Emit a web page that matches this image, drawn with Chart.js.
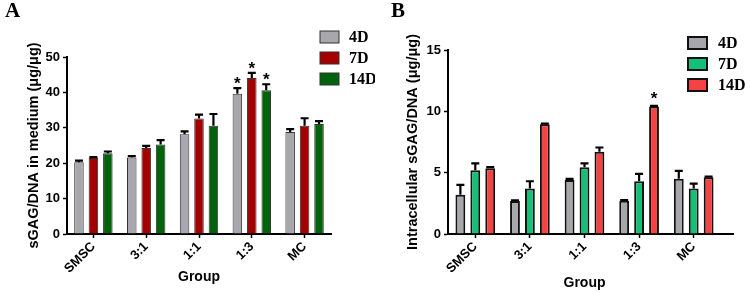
<!DOCTYPE html>
<html>
<head>
<meta charset="utf-8">
<script src="https://cdn.jsdelivr.net/npm/chart.js@4.4.1/dist/chart.umd.min.js"></script>
<style>
  html, body { margin: 0; padding: 0; background: #fff; }
  #wrap { position: relative; width: 750px; height: 292px; overflow: hidden; }
  .panel { position: absolute; top: 0; width: 375px; height: 292px; overflow: hidden; }
  .panel canvas { display: block; }
  .letter { position: absolute; top: -2px; font: bold 21px "Liberation Serif", serif; color: #000; }
</style>
</head>
<body>
<div id="wrap">
  <div class="panel" style="left:0"><canvas id="chartA" width="375" height="292"></canvas></div>
  <div class="panel" style="left:375px"><canvas id="chartB" width="375" height="292"></canvas></div>
  <div class="letter" style="left:5px">A</div>
  <div class="letter" style="left:391px">B</div>
</div>
<script>
const groups = ['SMSC', '3:1', '1:1', '1:3', 'MC'];
const dayLabels = ['4D', '7D', '14D'];

// Panel A - sGAG/DNA released into medium
const mediumD4 = [20.3, 21.6, 28.2, 39.6, 28.8];
const mediumD7 = [21.5, 24.3, 32.6, 44.1, 30.6];
const mediumD14 = [22.8, 25.3, 30.6, 40.6, 31.1];
const mediumErrD4 = [0.4, 0.4, 0.8, 1.6, 0.8];
const mediumErrD7 = [0.2, 0.6, 1.1, 1.4, 2.1];
const mediumErrD14 = [0.5, 1.2, 3.3, 1.7, 0.8];
const mediumSigD4 = [false, false, false, true, false];
const mediumSigD7 = [false, false, false, true, false];
const mediumSigD14 = [false, false, false, true, false];
const mediumTicks = { min: 0, max: 50, step: 10 };

// Panel B - intracellular sGAG/DNA
const cellD4 = [3.2, 2.7, 4.4, 2.72, 4.5];
const cellD7 = [5.2, 3.7, 5.45, 4.3, 3.7];
const cellD14 = [5.35, 8.95, 6.7, 10.4, 4.63];
const cellErrD4 = [0.8, 0.05, 0.1, 0.05, 0.65];
const cellErrD7 = [0.55, 0.6, 0.3, 0.6, 0.4];
const cellErrD14 = [0.1, 0.05, 0.35, 0.05, 0.05];
const cellSigD4 = [false, false, false, false, false];
const cellSigD7 = [false, false, false, false, false];
const cellSigD14 = [false, false, false, true, false];
const cellTicks = { min: 0, max: 15, step: 5 };

const sansFont = '"Liberation Sans", Arial, sans-serif';
const serifFont = '"Liberation Serif", "Times New Roman", serif';

// error bars (upper only) and significance stars
const errorBarPlugin = {
    id: 'errorBars',
    afterDatasetsDraw(chart, args, opts) {
        const ctx = chart.ctx;
        const yScale = chart.scales.y;
        chart.data.datasets.forEach((ds, i) => {
            const meta = chart.getDatasetMeta(i);
            meta.data.forEach((bar, j) => {
                const top = yScale.getPixelForValue(ds.data[j] + ds.errors[j]);
                ctx.save();
                ctx.strokeStyle = '#000';
                ctx.lineWidth = opts.lineWidth;
                ctx.beginPath();
                ctx.moveTo(bar.x, bar.y);
                ctx.lineTo(bar.x, top);
                ctx.moveTo(bar.x - opts.capHalf, top);
                ctx.lineTo(bar.x + opts.capHalf, top);
                ctx.stroke();
                if (ds.stars[j]) {
                    ctx.fillStyle = '#000';
                    ctx.font = opts.starFont;
                    ctx.textAlign = 'center';
                    ctx.textBaseline = 'alphabetic';
                    ctx.fillText('*', bar.x, top + opts.starOffset);
                }
                ctx.restore();
            });
        });
    }
};

// legend with boxes, drawn beside the plot
const boxLegendPlugin = {
    id: 'boxLegend',
    afterDraw(chart, args, opts) {
        const ctx = chart.ctx;
        ctx.save();
        chart.data.datasets.forEach((ds, i) => {
            const top = opts.y + i * opts.step;
            ctx.fillStyle = ds.backgroundColor;
            ctx.fillRect(opts.x, top, opts.boxW, opts.boxH);
            ctx.strokeStyle = ds.borderColor;
            ctx.lineWidth = opts.lineWidth;
            ctx.strokeRect(opts.x, top, opts.boxW, opts.boxH);
            ctx.fillStyle = '#000';
            ctx.font = opts.font;
            ctx.textAlign = 'left';
            ctx.textBaseline = 'middle';
            ctx.fillText(ds.label, opts.textX, top + opts.boxH / 2 + 1);
        });
        ctx.restore();
    }
};

// x axis line runs a little past the last group
const axisTailPlugin = {
    id: 'axisTail',
    afterDraw(chart, args, opts) {
        if (!opts.extra) return;
        const ctx = chart.ctx;
        const area = chart.chartArea;
        ctx.save();
        ctx.strokeStyle = '#000';
        ctx.lineWidth = opts.lineWidth;
        ctx.beginPath();
        ctx.moveTo(area.right - 1, area.bottom);
        ctx.lineTo(area.right + opts.extra, area.bottom);
        ctx.stroke();
        ctx.restore();
    }
};

function makeDataset(label, data, errors, stars, color, border, borderWidth) {
    return {
        label: label,
        data: data,
        errors: errors,
        stars: stars,
        backgroundColor: color,
        borderColor: border,
        borderWidth: borderWidth,
        borderSkipped: 'start',
        categoryPercentage: 0.82,
        barPercentage: 0.66
    };
}

function makePanel(canvasId, datasets, ticks, yTitle, layout) {
    const ctx = document.getElementById(canvasId).getContext('2d');
    return new Chart(ctx, {
        type: 'bar',
        data: { labels: groups, datasets: datasets },
        plugins: [errorBarPlugin, boxLegendPlugin, axisTailPlugin],
        options: {
            responsive: false,
            animation: false,
            devicePixelRatio: 1,
            layout: { padding: layout.padding },
            plugins: {
                legend: { display: false },
                tooltip: { enabled: false },
                errorBars: { lineWidth: 2.2, capHalf: 4, starFont: 'bold 17px ' + sansFont, starOffset: layout.starOffset },
                boxLegend: layout.legend,
                axisTail: { extra: layout.axisTail, lineWidth: 2 }
            },
            scales: {
                x: {
                    grid: { display: true, drawOnChartArea: false, offset: false, tickLength: 4, tickColor: '#000', tickWidth: 1.5 },
                    border: { display: true, color: '#000', width: 2 },
                    ticks: {
                        color: '#000',
                        font: { family: sansFont, size: 13, weight: 'bold' },
                        maxRotation: 45,
                        minRotation: 45,
                        autoSkip: false,
                        padding: 1
                    },
                    title: {
                        display: true,
                        text: 'Group',
                        color: '#000',
                        font: { family: sansFont, size: 14, weight: 'bold' },
                        padding: layout.groupPadding
                    },
                    afterFit: (scale) => { scale.height = layout.xHeight; }
                },
                y: {
                    min: ticks.min,
                    max: ticks.max,
                    grid: { display: true, drawOnChartArea: false, tickLength: 4, tickColor: '#000', tickWidth: 1.5 },
                    border: { display: true, color: '#000', width: 2 },
                    ticks: {
                        stepSize: ticks.step,
                        color: '#000',
                        font: { family: sansFont, size: 13, weight: 'bold' },
                        padding: 3
                    },
                    title: {
                        display: true,
                        text: yTitle,
                        color: '#000',
                        font: { family: sansFont, size: 14.5, weight: 'bold' },
                        padding: { top: 4, bottom: 4 }
                    },
                    afterFit: (scale) => { scale.width = layout.yWidth; }
                }
            }
        }
    });
}

const chartA = makePanel('chartA', [
    makeDataset(dayLabels[0], mediumD4, mediumErrD4, mediumSigD4, '#a7a7ad', '#333333', 1),
    makeDataset(dayLabels[1], mediumD7, mediumErrD7, mediumSigD7, '#a40000', '#333333', 1),
    makeDataset(dayLabels[2], mediumD14, mediumErrD14, mediumSigD14, '#03630c', '#333333', 1)
], mediumTicks, 'sGAG/DNA in medium (μg/μg)', {
    padding: { left: 21, top: 57, right: 44, bottom: 0 },
    yWidth: 46,
    xHeight: 58,
    groupPadding: { top: 2, bottom: 6 },
    starOffset: 1,
    axisTail: 0,
    legend: { x: 320, y: 31, step: 21, boxW: 19, boxH: 12, lineWidth: 1, textX: 349, font: 'bold 16px ' + serifFont }
});

const chartB = makePanel('chartB', [
    makeDataset(dayLabels[0], cellD4, cellErrD4, cellSigD4, '#a6a6ab', '#111111', 2),
    makeDataset(dayLabels[1], cellD7, cellErrD7, cellSigD7, '#15bf78', '#111111', 2),
    makeDataset(dayLabels[2], cellD14, cellErrD14, cellSigD14, '#f54343', '#111111', 2)
], cellTicks, 'Intracellular sGAG/DNA (μg/μg)', {
    padding: { left: 25, top: 50, right: 29, bottom: 0 },
    yWidth: 48,
    xHeight: 58,
    groupPadding: { top: 2, bottom: 0 },
    starOffset: -2,
    axisTail: 13,
    legend: { x: 313, y: 37, step: 21, boxW: 19, boxH: 12, lineWidth: 2, textX: 343, font: 'bold 16px ' + serifFont }
});
</script>
</body>
</html>
